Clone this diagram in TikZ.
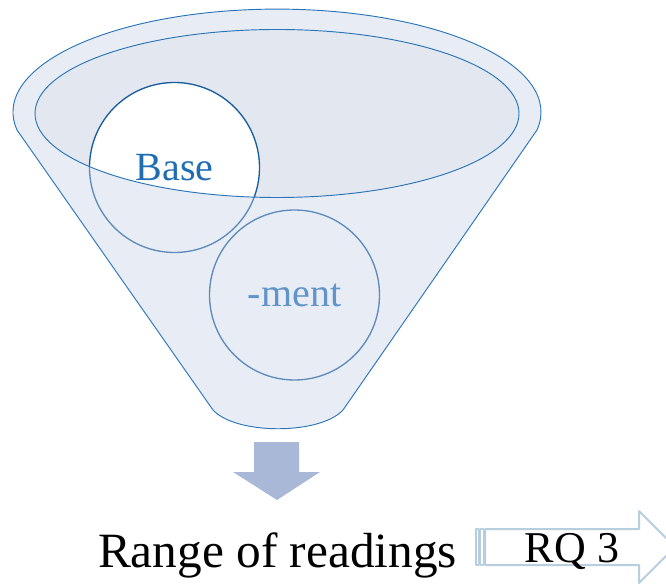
\documentclass[tikz,border=0pt]{standalone}
\usepackage{fontspec}
\setmainfont{Liberation Serif}
\usetikzlibrary{positioning}
\definecolor{azul}{HTML}{2A74B8}
\definecolor{marino}{HTML}{1A5E9E}
\definecolor{letra}{HTML}{1F6DB3}
\definecolor{boca}{HTML}{E2E7F0}
\definecolor{velo}{HTML}{C5D0E6}
\definecolor{flecha}{HTML}{A9B8D6}
\definecolor{celeste}{HTML}{B7CEDF}
\newcommand{\bordeEmbudo}{(17,455) arc[start angle=190,end angle=-10,x radius=264,y radius=103]
  -- (343,175) .. controls (320,150) and (236,150) .. (213,175) -- cycle}
\tikzset{
  burbuja/.style={circle,draw=marino,line width=1pt,fill=white,inner sep=0pt,
                  minimum size=127.5pt,text=letra,font=\fontsize{30}{36}\selectfont},
}

\begin{document}
\begin{tikzpicture}[x=0.75pt,y=0.75pt,line join=round]
        \useasboundingbox (0,0) rectangle (666,585);
        % --- boca del embudo (fondo) ---
        \fill[boca] (277,471.5) ellipse [x radius=242,y radius=84];
        % --- burbujas ---
        \node[burbuja] (base) at (174.5,417.5) {Base};
        \node[burbuja] (ment) at (294.5,290) {-ment};
        % --- cuerpo del embudo (velo translúcido) ---
        \fill[velo,fill opacity=0.4,even odd rule] \bordeEmbudo
              (277,471.5) ellipse [x radius=242,y radius=84];
        \draw[azul,line width=0.7pt] \bordeEmbudo;
        \draw[azul,line width=0.7pt] (277,471.5) ellipse [x radius=242,y radius=84];
        % --- flecha hacia abajo ---
        \fill[flecha] (254,143) -- (299,143) -- (299,113) -- (320,113) -- (277,85)
              -- (233,113) -- (254,113) -- cycle;
        % --- resultado ---
        \node[font=\fontsize{37}{44}\selectfont,anchor=base] (rango) at (277.5,18) {Range of readings};
        % --- flecha RQ 3 ---
        \draw[celeste,line width=1.3pt,fill=white] (476,20) rectangle (479,56);
        \draw[celeste,line width=1.3pt,fill=white] (480.5,20) rectangle (483.5,56);
        \draw[celeste,line width=1.5pt,fill=white] (485,20) -- (639,20) -- (639,2) -- (675,38)
              -- (639,74) -- (639,56) -- (485,56) -- cycle;
        \node[font=\fontsize{33}{40}\selectfont,anchor=base] (rq) at (572,23) {RQ 3};
      \end{tikzpicture}
\end{document}
